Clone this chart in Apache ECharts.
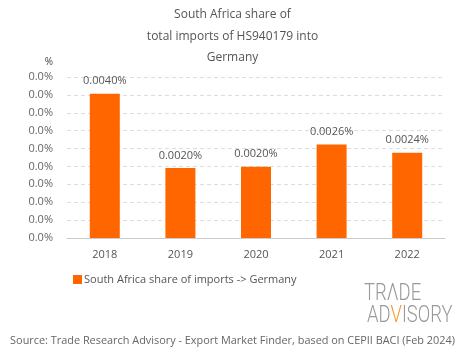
<!DOCTYPE html>
<html><head><meta charset="utf-8">
<script src="https://cdn.jsdelivr.net/npm/echarts@6/dist/echarts.min.js"></script>
<style>html,body{margin:0;padding:0;background:#fff}#c{width:465px;height:359px}</style>
</head><body><div id="c"></div>
<script>
const categories = ['2018','2019','2020','2021','2022'];
const shareValues = [0.00403, 0.00196, 0.00199, 0.00261, 0.00238]; // percent
const seriesName = 'South Africa share of imports -> Germany';
const titleText = 'South Africa share of\ntotal imports of HS940179 into\nGermany';
const sourceText = 'Source: Trade Research Advisory - Export Market Finder, based on CEPII BACI (Feb 2024)';
const FONT = '"Open Sans", sans-serif';

const chart = echarts.init(document.getElementById('c'));
chart.setOption({
  animation: false,
  title: {
    text: titleText, left: 'center', top: -1,
    textStyle: {fontFamily: FONT, fontSize: 12, fontWeight: 'normal', color: '#555', lineHeight: 21.5}
  },
  grid: {left: 67, right: 20, top: 77, bottom: 121},
  legend: {
    left: 68, top: 269, itemWidth: 9, itemHeight: 9, icon: 'rect',
    textStyle: {fontFamily: FONT, fontSize: 11, color: '#555', padding: [0, 0, 0, -3]},
    data: [seriesName]
  },
  xAxis: {
    type: 'category', data: categories,
    axisLine: {lineStyle: {color: '#ccc'}}, axisTick: {show: false},
    axisLabel: {fontFamily: FONT, fontSize: 11, color: '#555', margin: 11}
  },
  yAxis: {
    type: 'value', min: 0, max: 0.0045, interval: 0.0005,
    name: '%', nameLocation: 'end', nameGap: 10,
    nameTextStyle: {fontFamily: FONT, fontSize: 10, color: '#444', align: 'right', padding: [0, 14, 0, 0]},
    axisLabel: {fontFamily: FONT, fontSize: 11, color: '#666', margin: 14, formatter: v => v.toFixed(1) + '%'},
    splitLine: {lineStyle: {color: '#ddd', type: [4, 3]}},
    axisLine: {show: false}, axisTick: {show: false}
  },
  series: [{
    name: seriesName, type: 'bar', data: shareValues, barWidth: 30,
    itemStyle: {color: '#ff6600'},
    label: {show: true, position: 'top', distance: 7, fontFamily: FONT, fontSize: 11, color: '#555',
      formatter: p => p.value.toFixed(4) + '%'}
  }],
  graphic: [
    {type: 'text', left: 'center', top: 335,
      style: {text: sourceText, font: '10.9px ' + FONT, fill: '#666'}},
    {type: 'text', x: 364, y: 283, scaleX: 0.8,
      style: {text: '{g|TRΛDE}', font: '300 23px Roboto',
        rich: {g: {fill: '#999', font: '300 23px Roboto'}}}},
    {type: 'text', x: 367, y: 305, scaleX: 0.8,
      style: {text: '{g|AD}{o|V}{g|ISORY}', font: '300 23px Roboto',
        rich: {g: {fill: '#999', font: '300 23px Roboto'}, o: {fill: '#f39a2e', font: '300 23px Roboto'}}}}
  ]
});
</script></body></html>
